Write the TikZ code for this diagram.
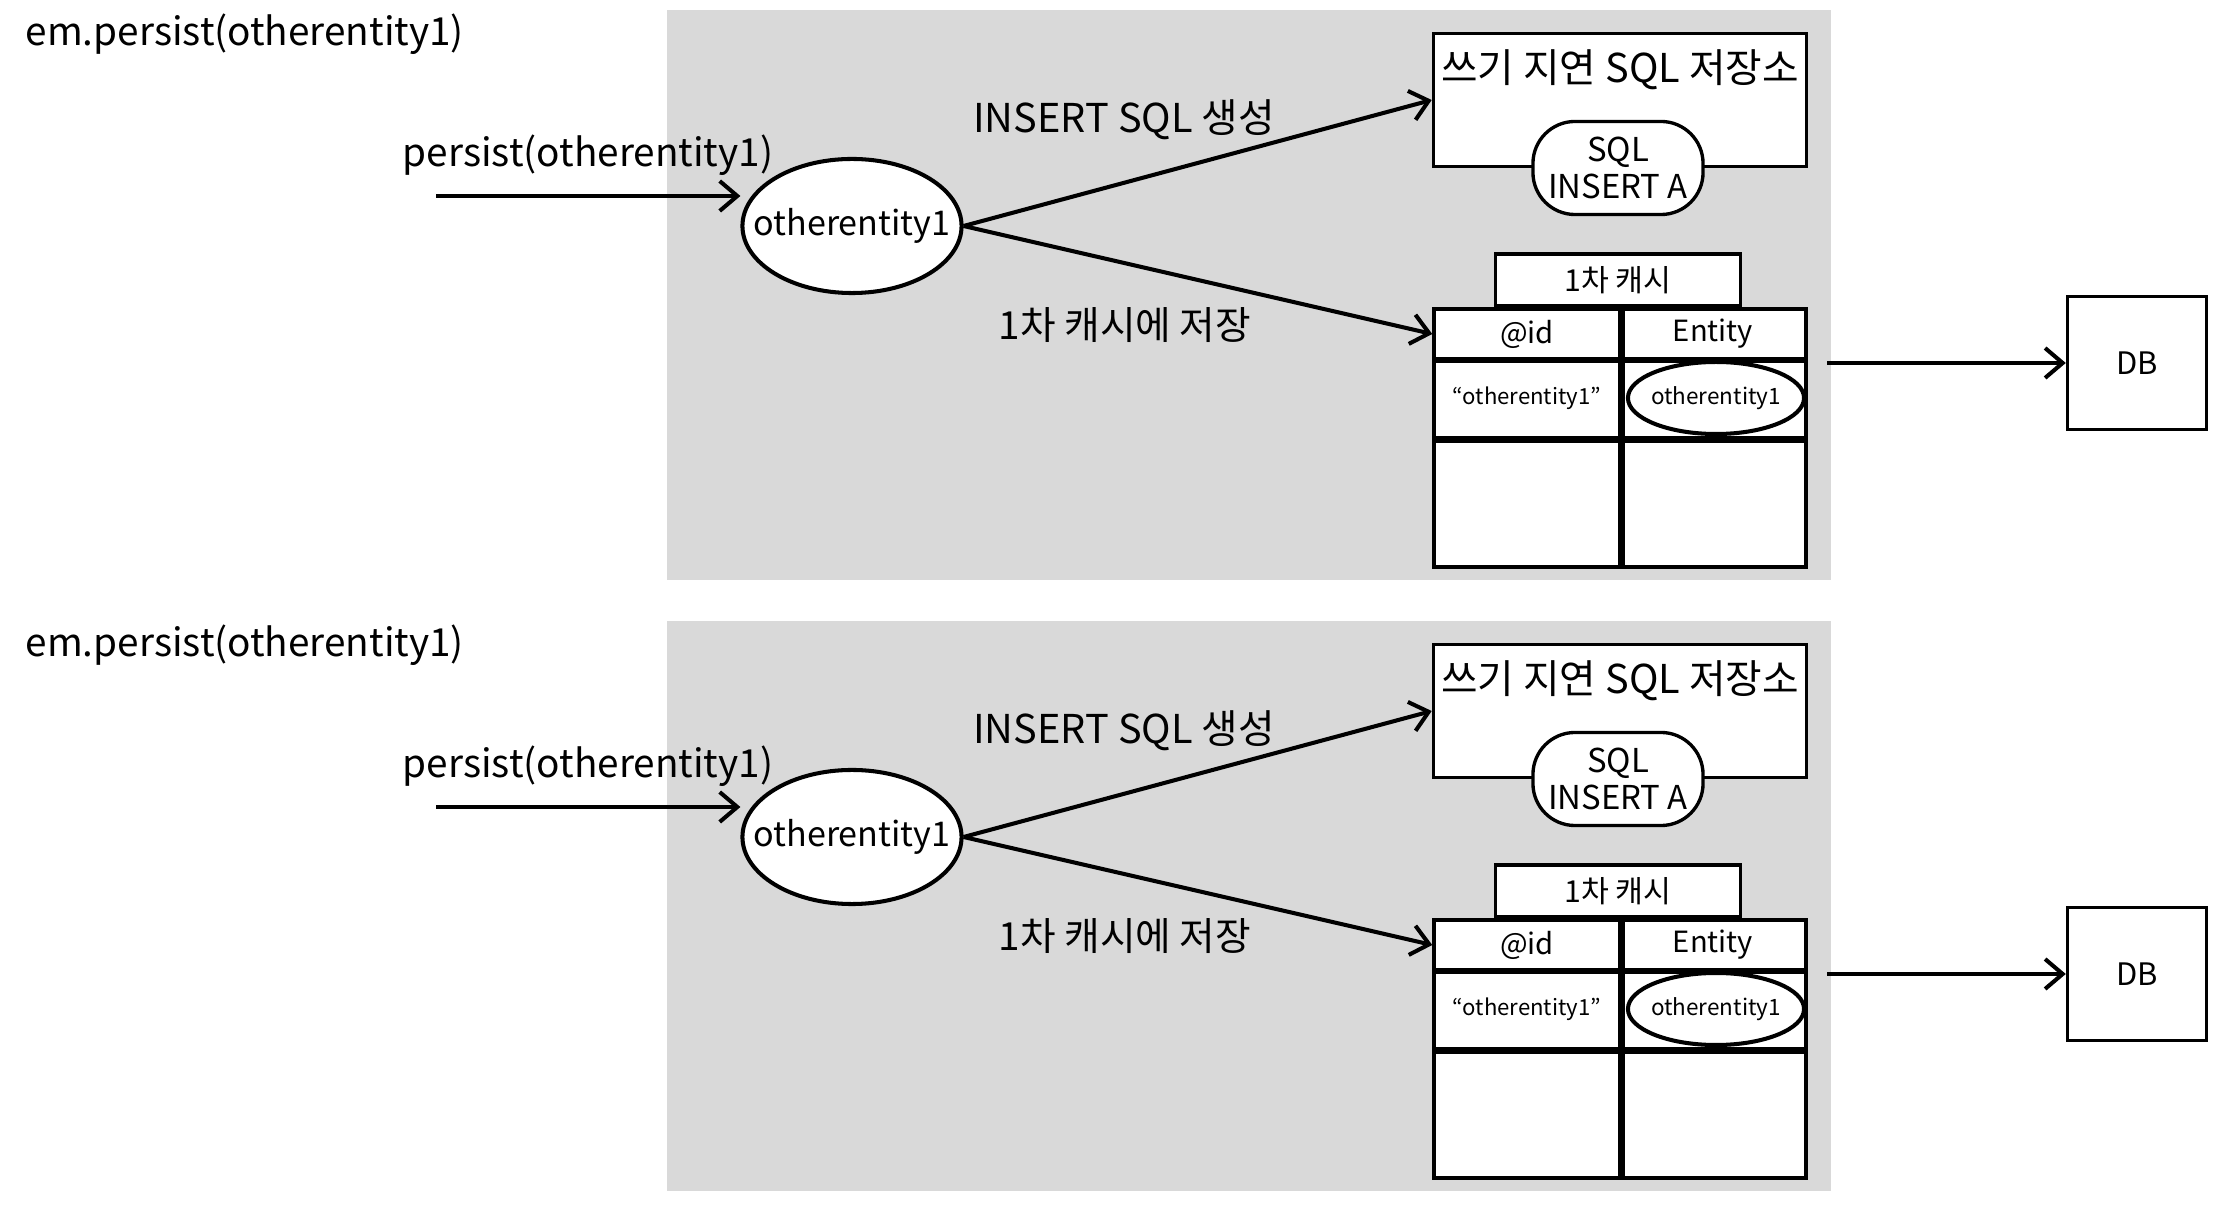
\documentclass[tikz,border=0pt]{standalone}
\usepackage{fontspec}
\setmainfont{Noto Sans CJK KR}
\usetikzlibrary{positioning,arrows.meta,shapes.geometric}
\definecolor{panelgray}{HTML}{D9D9D9}

\begin{document}
\begin{tikzpicture}[x=0.01cm, y=-0.01cm,
            panel/.style={fill=panelgray, draw=none},
            lbl/.style={inner sep=0pt, font=\fontsize{11pt}{13pt}\selectfont},
            big lbl/.style={lbl, font=\fontsize{11.3pt}{13pt}\selectfont},
            box/.style={rectangle, draw, line width=0.95pt, fill=white, inner sep=0pt},
            entity/.style={ellipse, draw, line width=1.15pt, fill=white, inner xsep=-6pt, inner ysep=0pt, minimum width=21.9mm, minimum height=13.4mm, font=\fontsize{9.7pt}{11pt}\selectfont},
            store/.style={box, minimum width=37.3mm, minimum height=13.3mm},
            pill/.style={box, rounded corners=4.2mm, minimum width=17mm, minimum height=9.3mm, align=center, font=\fontsize{9.35pt}{10.6pt}\selectfont},
            cache/.style={box, minimum width=24.5mm, minimum height=5.2mm, font=\fontsize{8.6pt}{9pt}\selectfont},
            cell/.style={box, minimum width=18.6mm},
            head cell/.style={cell, minimum height=5mm, font=\fontsize{8.3pt}{10pt}\selectfont},
            val cell/.style={cell, minimum height=7.9mm, font=\fontsize{6.3pt}{8pt}\selectfont},
            empty cell/.style={cell, minimum height=12.9mm},
            small entity/.style={ellipse, draw, line width=1.15pt, fill=white, inner xsep=-2pt, inner ysep=0pt, minimum width=17.6mm, minimum height=7.2mm, font=\fontsize{6.4pt}{8pt}\selectfont},
            db/.style={box, minimum width=13.9mm, minimum height=13.3mm, font=\fontsize{8.8pt}{11pt}\selectfont},
            arr/.style={-{Straight Barb[length=5pt, width=8.5pt]}, line width=1.15pt},
            thick line/.style={line width=2pt}
    ]
        \useasboundingbox (0,0) rectangle (2226,1216);

        % Upper panel
        \fill[panel] (667,10) rectangle (1831,580);
        \node[lbl, anchor=west] (call1) at (25,34) {em.persist(otherentity1)};
        \node[lbl] (plabel1) at (588,155) {persist(otherentity1)};
        \coordinate (pin1) at (436,196);
        \node[entity] (ent1) at (852,226) {otherentity1};
        \node[big lbl] (ins1) at (1124,120) {INSERT SQL 생성};
        \node[lbl] (save1) at (1125,325) {1차 캐시에 저장};

        % Write-behind store
        \node[store] (store1) at (1620,100) {};
        \node[big lbl] (storet1) at (1620,70) {쓰기 지연 SQL 저장소};
        \node[pill] (sql1) at (1618,168) {SQL\\INSERT A};

        % First level cache
        \node[cache] (cache1) at (1618,280) {1차 캐시};
        \node[head cell] (idh1) at (1527,334) {@id};
        \node[head cell] (enth1) at (1713,334) {Entity};
        \node[val cell] (idv1) at (1527,398.5) {“otherentity1”};
        \node[val cell] (entv1) at (1713,398.5) {};
        \node[empty cell] (ide1) at (1527,502.5) {};
        \node[empty cell] (ente1) at (1713,502.5) {};
        \node[small entity] (obj1) at (1716,398) {otherentity1};
        \draw[line width=1.4pt] (idh1.south west) -- (enth1.south east);
        \draw[thick line] (idv1.south west) -- (entv1.south east);
        \draw[thick line] (idh1.north east) -- (ide1.south east);

        \node[db] (db1) at (2137,363) {DB};
        \coordinate (out1) at (1827,363);

        % Arrows
        \draw[arr] (pin1) -- (pin1 -| ent1.west);
        \draw[arr] (ent1.east) -- (store1.west);
        \draw[arr] (ent1.east) -- (idh1.west);
        \draw[arr] (out1) -- (db1.west);

        % Lower panel
        \fill[panel] (667,621) rectangle (1831,1191);
        \node[lbl, anchor=west] (call2) at (25,645) {em.persist(otherentity1)};
        \node[lbl] (plabel2) at (588,766) {persist(otherentity1)};
        \coordinate (pin2) at (436,807);
        \node[entity] (ent2) at (852,837) {otherentity1};
        \node[big lbl] (ins2) at (1124,731) {INSERT SQL 생성};
        \node[lbl] (save2) at (1125,936) {1차 캐시에 저장};

        % Write-behind store
        \node[store] (store2) at (1620,711) {};
        \node[big lbl] (storet2) at (1620,681) {쓰기 지연 SQL 저장소};
        \node[pill] (sql2) at (1618,779) {SQL\\INSERT A};

        % First level cache
        \node[cache] (cache2) at (1618,891) {1차 캐시};
        \node[head cell] (idh2) at (1527,945) {@id};
        \node[head cell] (enth2) at (1713,945) {Entity};
        \node[val cell] (idv2) at (1527,1009.5) {“otherentity1”};
        \node[val cell] (entv2) at (1713,1009.5) {};
        \node[empty cell] (ide2) at (1527,1113.5) {};
        \node[empty cell] (ente2) at (1713,1113.5) {};
        \node[small entity] (obj2) at (1716,1009) {otherentity1};
        \draw[line width=1.4pt] (idh2.south west) -- (enth2.south east);
        \draw[thick line] (idv2.south west) -- (entv2.south east);
        \draw[thick line] (idh2.north east) -- (ide2.south east);

        \node[db] (db2) at (2137,974) {DB};
        \coordinate (out2) at (1827,974);

        % Arrows
        \draw[arr] (pin2) -- (pin2 -| ent2.west);
        \draw[arr] (ent2.east) -- (store2.west);
        \draw[arr] (ent2.east) -- (idh2.west);
        \draw[arr] (out2) -- (db2.west);

    \end{tikzpicture}
\end{document}
